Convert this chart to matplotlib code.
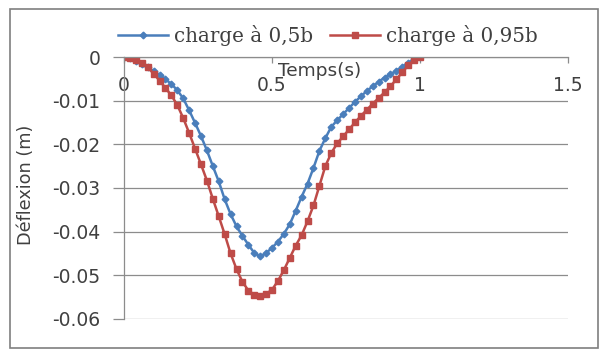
import numpy as np
import matplotlib.pyplot as plt
from matplotlib.patches import Rectangle

# temps (s), pas de 0.02
temps = [0.00, 0.02, 0.04, 0.06, 0.08, 0.10, 0.12, 0.14, 0.16, 0.18,
         0.20, 0.22, 0.24, 0.26, 0.28, 0.30, 0.32, 0.34, 0.36, 0.38,
         0.40, 0.42, 0.44, 0.46, 0.48, 0.50, 0.52, 0.54, 0.56, 0.58,
         0.60, 0.62, 0.64, 0.66, 0.68, 0.70, 0.72, 0.74, 0.76, 0.78,
         0.80, 0.82, 0.84, 0.86, 0.88, 0.90, 0.92, 0.94, 0.96, 0.98, 1.00]

# charge a 0,5b
defl_05 = [0.0, -0.0002, -0.0008, -0.0016, -0.0024, -0.0032, -0.0041, -0.0051,
           -0.0062, -0.0076, -0.0095, -0.0122, -0.0151, -0.0181, -0.0214,
           -0.0250, -0.0285, -0.0326, -0.0360, -0.0388, -0.0410, -0.0430,
           -0.0449, -0.0457, -0.0449, -0.0437, -0.0423, -0.0405, -0.0383,
           -0.0352, -0.0320, -0.0290, -0.0254, -0.0215, -0.0186, -0.0160,
           -0.0145, -0.0131, -0.0117, -0.0103, -0.0090, -0.0078, -0.0067,
           -0.0057, -0.0047, -0.0040, -0.0031, -0.0022, -0.0013, -0.0005, 0.0]

# charge a 0,95b
defl_095 = [0.0, -0.0002, -0.0006, -0.0013, -0.0024, -0.0038, -0.0054, -0.0071,
            -0.0088, -0.0110, -0.0140, -0.0174, -0.0210, -0.0246, -0.0283,
            -0.0325, -0.0365, -0.0406, -0.0450, -0.0486, -0.0515, -0.0535,
            -0.0545, -0.0548, -0.0543, -0.0533, -0.0513, -0.0488, -0.0460,
            -0.0432, -0.0408, -0.0376, -0.0340, -0.0295, -0.0250, -0.0220,
            -0.0198, -0.0182, -0.0166, -0.0150, -0.0135, -0.0121, -0.0107,
            -0.0094, -0.0081, -0.0067, -0.0051, -0.0035, -0.0019, -0.0007, 0.0]

xticks = [0, 0.5, 1, 1.5]
xtick_labels = ["0", "0.5", "1", "1.5"]
yticks = [0, -0.01, -0.02, -0.03, -0.04, -0.05, -0.06]
ytick_labels = ["0", "-0.01", "-0.02", "-0.03", "-0.04", "-0.05", "-0.06"]

blue = "#4A7EBB"
red = "#BE4B48"
grid_col = "#8C8C8C"
text_col = "#404040"

fig = plt.figure(figsize=(6.05, 3.52), dpi=100)
fig.patches.append(Rectangle((0.0165, 0.011), 0.972, 0.963, transform=fig.transFigure,
                             fill=False, edgecolor="#7F7F7F", linewidth=1.2))

ax = fig.add_axes([0.205, 0.094, 0.734, 0.744])
ax.plot(temps, defl_05, color=blue, marker="D", markersize=3.4, linewidth=1.8,
        label="charge à 0,5b")
ax.plot(temps, defl_095, color=red, marker="s", markersize=4.6, linewidth=1.8,
        label="charge à 0,95b")

ax.set_xlim(0, 1.5)
ax.set_ylim(-0.06, 0)
ax.set_xticks(xticks)
ax.set_xticklabels(xtick_labels)
ax.set_yticks(yticks)
ax.set_yticklabels(ytick_labels)

ax.spines["bottom"].set_position(("data", 0))
ax.spines["top"].set_visible(False)
ax.spines["right"].set_visible(False)
for s in ["bottom", "left"]:
    ax.spines[s].set_color(grid_col)
    ax.spines[s].set_linewidth(0.9)
ax.yaxis.grid(True, color=grid_col, linewidth=0.9)
ax.set_axisbelow(True)
ax.tick_params(axis="both", colors=grid_col, labelcolor=text_col, labelsize=13.5,
               width=0.9)
ax.tick_params(axis="y", length=8, pad=9)
ax.tick_params(axis="x", direction="out", length=4, pad=10)

ax.set_ylabel("Déflexion (m)", fontsize=12.7, color=text_col)
ax.yaxis.set_label_coords(35 / 605, 1 - 185 / 352, transform=fig.transFigure)
fig.text(0.529, 0.798, "Temps(s)", fontsize=13.3, color=text_col,
         ha="center", va="center")

fig.legend(loc="center", bbox_to_anchor=(0.542, 0.898), ncol=2, frameon=False,
           prop={"family": "DejaVu Serif", "size": 14.3}, labelcolor=text_col,
           handlelength=2.5, handletextpad=0.3, columnspacing=0.85,
           borderpad=0, borderaxespad=0)

fig.savefig("out.png", dpi=100)
